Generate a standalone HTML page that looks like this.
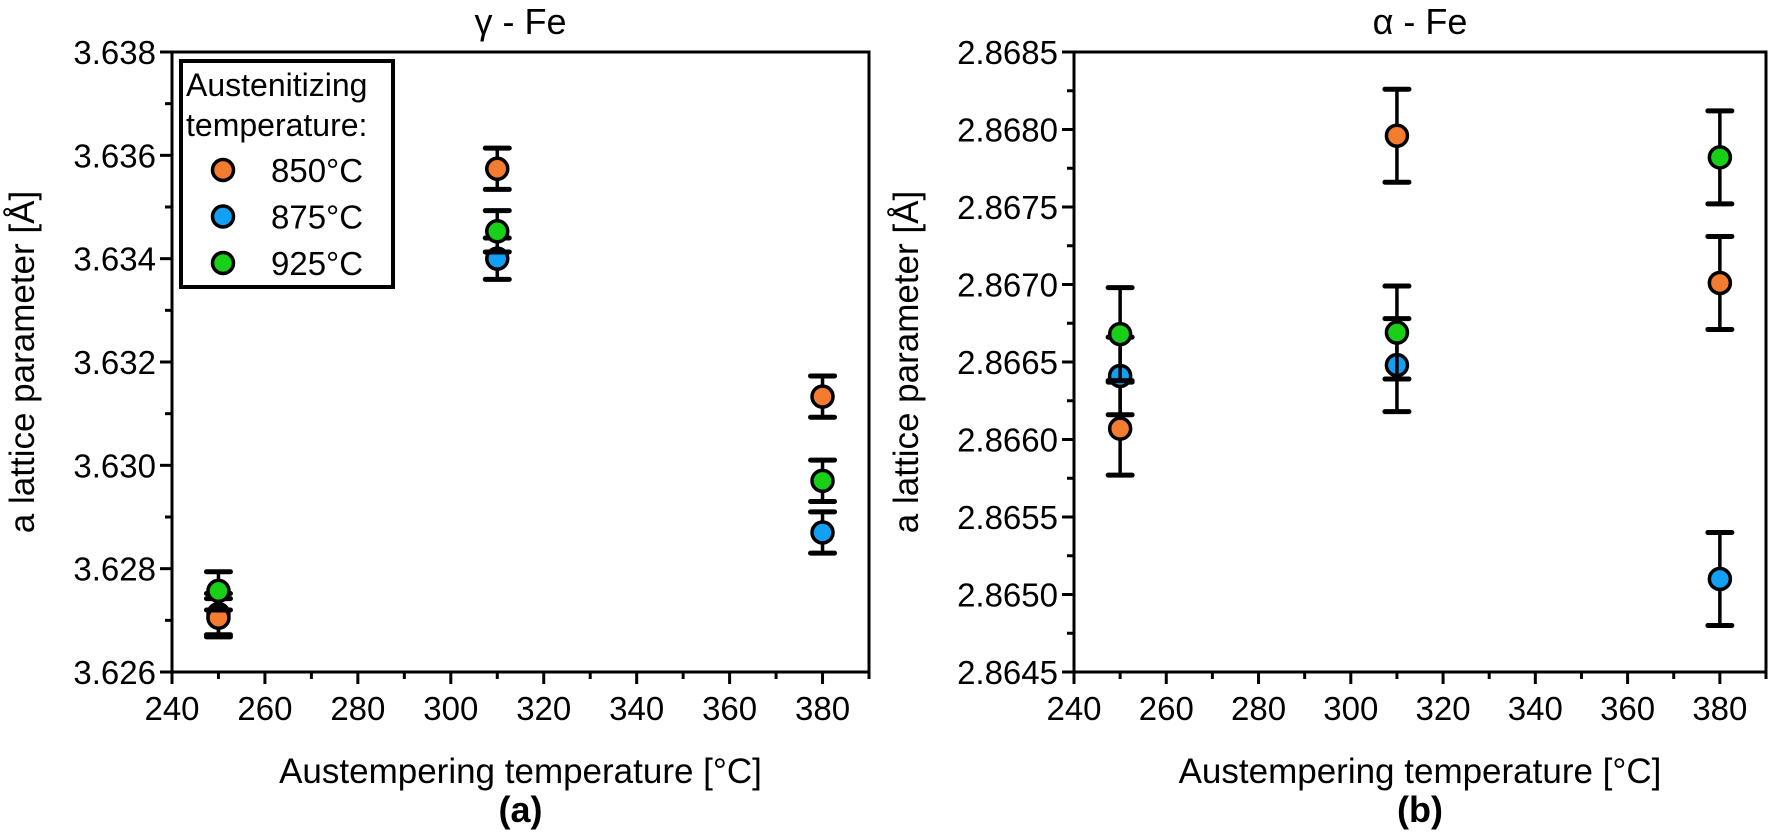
<!DOCTYPE html>
<html><head><meta charset="utf-8">
<style>
html,body{margin:0;padding:0;background:#fff;}
svg{display:block;font-family:"Liberation Sans",Arial,sans-serif;}
</style></head>
<body>
<svg id="fig" width="1769" height="837" viewBox="0 0 1769 837" xmlns="http://www.w3.org/2000/svg"></svg>
<script>
// ---- data ----
const temps = [250, 310, 380];
const seriesNames = ['850°C', '875°C', '925°C'];
const seriesColors = ['#f47c30', '#12a0f5', '#18d018'];
// gamma-Fe
const gamma850 = [3.62705, 3.63574, 3.63133];
const gamma850Err = [0.00037, 0.0004, 0.0004];
const gamma875 = [3.62712, 3.63400, 3.62870];
const gamma875Err = [0.0004, 0.0004, 0.0004];
const gamma925 = [3.62757, 3.63453, 3.62970];
const gamma925Err = [0.00037, 0.0004, 0.0004];
// alpha-Fe
const alpha850 = [2.86607, 2.86796, 2.86701];
const alpha850Err = [0.0003, 0.0003, 0.0003];
const alpha875 = [2.86641, 2.86648, 2.86510];
const alpha875Err = [0.00025, 0.0003, 0.0003];
const alpha925 = [2.86668, 2.86669, 2.86782];
const alpha925Err = [0.0003, 0.0003, 0.0003];
const xTicks = [240, 260, 280, 300, 320, 340, 360, 380];
const gammaTicks = [3.626, 3.628, 3.630, 3.632, 3.634, 3.636, 3.638];
const alphaTicks = [2.8645, 2.8650, 2.8655, 2.8660, 2.8665, 2.8670, 2.8675, 2.8680, 2.8685];

const NS = 'http://www.w3.org/2000/svg';
const svg = document.getElementById('fig');
function mk(tag, attrs, parent, text) {
  const e = document.createElementNS(NS, tag);
  for (const k in attrs) e.setAttribute(k, attrs[k]);
  if (text !== undefined) e.textContent = text;
  (parent || svg).appendChild(e);
  return e;
}

function panel(cfg) {
  const g = mk('g', {});
  
  
  const L = cfg.left, R = cfg.right, T = 52, B = 672;
  const xs = v => L + (v - 240) / 150 * (R - L);
  const ys = v => B - (v - cfg.ymin) / (cfg.ymax - cfg.ymin) * (B - T);
  const fr = mk('rect', {x: L, y: T, width: R - L, height: B - T, fill: 'none', stroke: '#000', 'stroke-width': 3}, g);
  
  
  for (let v = 240; v <= 390; v += 10) {
    const major = v % 20 === 0;
    mk('line', {x1: xs(v), x2: xs(v), y1: B, y2: B + (major ? 12 : 7), stroke: '#000', 'stroke-width': 3}, g);
  }
  xTicks.forEach(v => {
    const t = mk('text', {x: xs(v), y: 720, 'font-size': 33, 'text-anchor': 'middle'}, g, String(v));
    
    
  });
  const ticks = cfg.ticks;
  const step = ticks[1] - ticks[0];
  for (let i = 0; i < ticks.length; i++) {
    mk('line', {x1: L - 12, x2: L, y1: ys(ticks[i]), y2: ys(ticks[i]), stroke: '#000', 'stroke-width': 3}, g);
    if (i < ticks.length - 1) {
      const m = ticks[i] + step / 2;
      mk('line', {x1: L - 7, x2: L, y1: ys(m), y2: ys(m), stroke: '#000', 'stroke-width': 3}, g);
    }
    const t = mk('text', {x: L - 16, y: ys(ticks[i]) + 12, 'font-size': 33, 'text-anchor': 'end'}, g, ticks[i].toFixed(cfg.dec));
    
    
  }
  const tt = mk('text', {x: (L + R) / 2, y: 34, 'font-size': 36, 'text-anchor': 'middle'}, g, cfg.title);
  
  
  const xt = mk('text', {x: (L + R) / 2, y: 783, 'font-size': 35, 'text-anchor': 'middle'}, g, 'Austempering temperature [°C]');
  
  
  const yt = mk('text', {x: 0, y: 0, 'font-size': 35, 'text-anchor': 'middle', transform: `translate(${cfg.ytx},${(T + B) / 2}) rotate(-90)`}, g, 'a lattice parameter [Å]');
  
  
  const lab = mk('text', {x: (L + R) / 2, y: 822, 'font-size': 36, 'font-weight': 'bold', 'text-anchor': 'middle'}, g, cfg.label);
  
  
  cfg.order.forEach(si => {
    const vals = cfg.vals[si], errs = cfg.errs[si];
    temps.forEach((tx, i) => {
      const cx = xs(tx), cy = ys(vals[i]);
      const y1 = ys(vals[i] + errs[i]), y2 = ys(vals[i] - errs[i]);
      const eb = mk('g', {}, g);
      
      
      mk('line', {x1: cx, x2: cx, y1: y1, y2: y2, stroke: '#000', 'stroke-width': 3.5}, eb);
      mk('line', {x1: cx - 12, x2: cx + 12, y1: y1, y2: y1, stroke: '#000', 'stroke-width': 5, 'stroke-linecap': 'round'}, eb);
      mk('line', {x1: cx - 12, x2: cx + 12, y1: y2, y2: y2, stroke: '#000', 'stroke-width': 5, 'stroke-linecap': 'round'}, eb);
      const c = mk('circle', {cx: cx, cy: cy, r: 10.5, fill: seriesColors[si], stroke: '#000', 'stroke-width': 3.5}, g);
      
      
    });
  });
  return g;
}

panel({name: 'gamma-fe-panel', left: 172, right: 869, ymin: 3.626, ymax: 3.638, ticks: gammaTicks, dec: 3,
  title: 'γ - Fe', label: '(a)', ytx: 34, order: [1, 0, 2],
  vals: [gamma850, gamma875, gamma925], errs: [gamma850Err, gamma875Err, gamma925Err]});
panel({name: 'alpha-fe-panel', left: 1074, right: 1766, ymin: 2.8645, ymax: 2.8685, ticks: alphaTicks, dec: 4,
  title: 'α - Fe', label: '(b)', ytx: 918, order: [0, 1, 2],
  vals: [alpha850, alpha875, alpha925], errs: [alpha850Err, alpha875Err, alpha925Err]});

const lg = mk('g', {});


mk('rect', {x: 181, y: 61, width: 212, height: 226, fill: '#fff', stroke: '#000', 'stroke-width': 4}, lg);
const l1 = mk('text', {x: 186, y: 96, 'font-size': 32}, lg, 'Austenitizing');


const l2 = mk('text', {x: 186, y: 136, 'font-size': 32}, lg, 'temperature:');


seriesNames.forEach((n, i) => {
  const y = 170 + i * 46.5;
  const e = mk('g', {}, lg);
  
  
  mk('circle', {cx: 223, cy: y, r: 10.5, fill: seriesColors[i], stroke: '#000', 'stroke-width': 3.5}, e);
  mk('text', {x: 271, y: y + 12, 'font-size': 33}, e, n);
});
</script>
</body></html>
